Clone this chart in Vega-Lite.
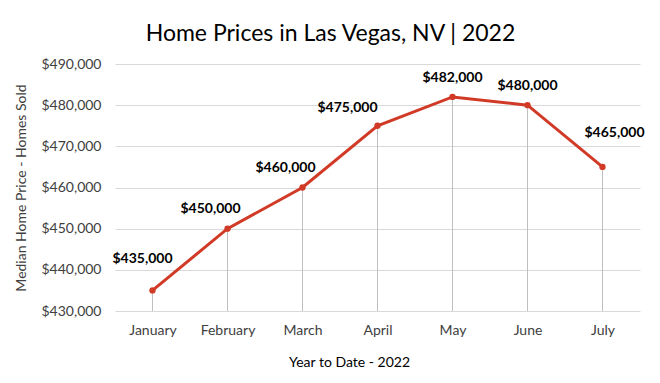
{
  "$schema": "https://vega.github.io/schema/vega-lite/v6.json",
  "autosize": {"type": "none"},
  "padding": {"left": 115, "top": 64, "right": 20, "bottom": 72},
  "width": 525,
  "height": 247,
  "background": "white",
  "title": {
    "text": "Home Prices in Las Vegas, NV | 2022",
    "font": "Lato",
    "fontSize": 23,
    "fontWeight": "normal",
    "color": "#000000",
    "offset": 11,
    "dx": -47
  },
  "config": {
    "view": {"stroke": null},
    "font": "Lato"
  },
  "data": {
    "values": [
      {"month": "January", "price": 435000},
      {"month": "February", "price": 450000},
      {"month": "March", "price": 460000},
      {"month": "April", "price": 475000},
      {"month": "May", "price": 482000},
      {"month": "June", "price": 480000},
      {"month": "July", "price": 465000}
    ]
  },
  "encoding": {
    "x": {
      "field": "month",
      "type": "ordinal",
      "sort": null,
      "scale": {"type": "point", "padding": 0.5},
      "axis": {
        "title": "Year to Date - 2022",
        "titleFont": "Lato",
        "titleFontSize": 14,
        "titleFontWeight": "normal",
        "titleColor": "#000000",
        "titlePadding": 18,
        "titleX": 234,
        "labelAngle": 0,
        "labelFont": "Lato",
        "labelFontSize": 14,
        "labelColor": "#404040",
        "labelPadding": 12,
        "ticks": false,
        "domain": false,
        "grid": false
      }
    }
  },
  "layer": [
    {
      "mark": {"type": "rule", "color": "#bfbfbf", "strokeWidth": 1},
      "encoding": {
        "y": {"field": "price", "type": "quantitative", "scale": {"domain": [430000, 490000]}},
        "y2": {"datum": 430000}
      }
    },
    {
      "mark": {"type": "line", "color": "#d13a26", "strokeWidth": 3},
      "encoding": {
        "y": {
          "field": "price",
          "type": "quantitative",
          "scale": {"domain": [430000, 490000]},
          "axis": {
            "title": "Median Home Price - Homes Sold",
            "titleFont": "Lato",
            "titleFontSize": 14,
            "titleFontWeight": "normal",
            "titleColor": "#404040",
            "titlePadding": 12,
            "format": "$,.0f",
            "values": [430000, 440000, 450000, 460000, 470000, 480000, 490000],
            "labelOverlap": false,
            "labelFont": "Lato",
            "labelFontSize": 14,
            "labelColor": "#404040",
            "labelPadding": 14,
            "ticks": false,
            "domain": false,
            "grid": true,
            "gridColor": "#d9d9d9",
            "gridWidth": 1
          }
        }
      }
    },
    {
      "mark": {"type": "point", "filled": true, "color": "#d13a26", "size": 40, "opacity": 1},
      "encoding": {
        "y": {"field": "price", "type": "quantitative"}
      }
    },
    {
      "transform": [{"filter": "datum.month == 'January'"}],
      "mark": {"type": "text", "font": "Lato", "fontSize": 14, "fontWeight": "bold", "color": "#000000", "dy": -31, "dx": -10},
      "encoding": {
        "y": {"field": "price", "type": "quantitative"},
        "text": {"field": "price", "type": "quantitative", "format": "$,.0f"}
      }
    },
    {
      "transform": [{"filter": "datum.month == 'February' || datum.month == 'March'"}],
      "mark": {"type": "text", "font": "Lato", "fontSize": 14, "fontWeight": "bold", "color": "#000000", "dy": -20, "dx": -17},
      "encoding": {
        "y": {"field": "price", "type": "quantitative"},
        "text": {"field": "price", "type": "quantitative", "format": "$,.0f"}
      }
    },
    {
      "transform": [{"filter": "datum.month == 'April'"}],
      "mark": {"type": "text", "font": "Lato", "fontSize": 14, "fontWeight": "bold", "color": "#000000", "dy": -18, "dx": -30},
      "encoding": {
        "y": {"field": "price", "type": "quantitative"},
        "text": {"field": "price", "type": "quantitative", "format": "$,.0f"}
      }
    },
    {
      "transform": [{"filter": "datum.month == 'May' || datum.month == 'June'"}],
      "mark": {"type": "text", "font": "Lato", "fontSize": 14, "fontWeight": "bold", "color": "#000000", "dy": -19, "dx": 0},
      "encoding": {
        "y": {"field": "price", "type": "quantitative"},
        "text": {"field": "price", "type": "quantitative", "format": "$,.0f"}
      }
    },
    {
      "transform": [{"filter": "datum.month == 'July'"}],
      "mark": {"type": "text", "font": "Lato", "fontSize": 14, "fontWeight": "bold", "color": "#000000", "dy": -34, "dx": 12},
      "encoding": {
        "y": {"field": "price", "type": "quantitative"},
        "text": {"field": "price", "type": "quantitative", "format": "$,.0f"}
      }
    }
  ]
}
